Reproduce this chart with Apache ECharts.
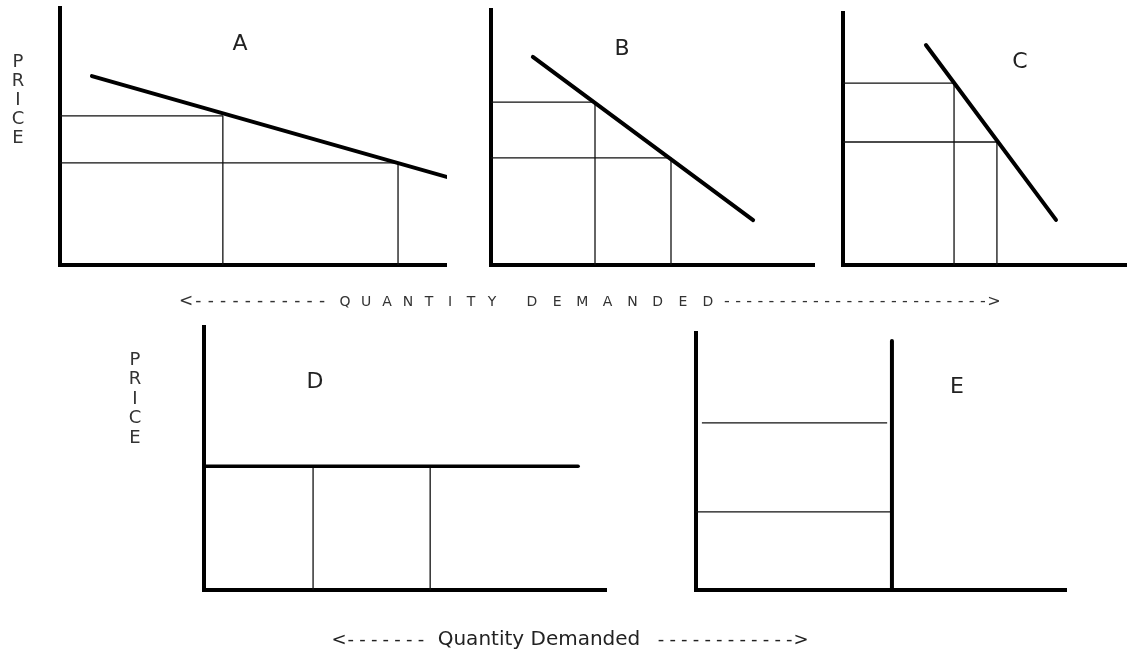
<!DOCTYPE html>
<html>
<head>
<meta charset="utf-8">
<script src="https://cdn.jsdelivr.net/npm/echarts@6/dist/echarts.min.js"></script>
<style>html,body{margin:0;padding:0;background:#fff}#c{width:1127px;height:659px}</style>
</head>
<body>
<div id="c"></div>
<script>
// ---- data (each panel uses a 0..100 price / quantity scale) ----
const panels = ['A', 'B', 'C', 'D', 'E'];
const demandA = [[8.3, 73.5], [101.3, 33.9]];
const guidesA = [[[0, 58.0], [42.3, 58.0], [42.3, 0]], [[0, 39.7], [87.8, 39.7], [87.8, 0]]];
const demandB = [[13.0, 81.6], [81.4, 17.6]];
const guidesB = [[[0, 63.9], [32.3, 63.9], [32.3, 0]], [[0, 42.0], [55.9, 42.0], [55.9, 0]]];
const demandC = [[29.2, 87.3], [75.0, 17.9]];
const guidesC = [[[0, 72.2], [39.1, 72.2], [39.1, 0]], [[0, 48.8], [54.2, 48.8], [54.2, 0]]];
const demandD = [[0, 47.1], [93.3, 47.1]];
const guidesD = [[[27.2, 47.1], [27.2, 0]], [[56.4, 47.1], [56.4, 0]]];
const demandE = [[53.1, 0], [53.1, 96.9]];
const guidesE = [[[1.6, 65.0], [51.8, 65.0]], [[0, 30.4], [52.6, 30.4]]];
const yTitle = 'PRICE';
const topCaption = ['<-----------', 'QUANTITY', 'DEMANDED', '------------------------>'];
const bottomCaption = ['<-------', 'Quantity Demanded', '------------>'];

const demands = [demandA, demandB, demandC, demandD, demandE];
const guides = [guidesA, guidesB, guidesC, guidesD, guidesE];

// ---- layout ----
const grids = [
  {left: 60, top: 8, width: 385, height: 257},
  {left: 491, top: 10, width: 322, height: 255},
  {left: 843, top: 13, width: 284, height: 252},
  {left: 204, top: 327, width: 401, height: 263},
  {left: 696, top: 333, width: 369, height: 257}
];
const labelPos = [[240, 44], [622, 49], [1020, 62], [315, 382], [957, 387]];

const axisLine = {show: true, onZero: false, lineStyle: {color: '#000', width: 4, cap: 'square'}};
const xAxis = grids.map((g, i) => ({
  type: 'value', gridIndex: i, min: 0, max: 100,
  axisLine: axisLine, axisTick: {show: false}, axisLabel: {show: false}, splitLine: {show: false}
}));
const yAxis = grids.map((g, i) => ({
  type: 'value', gridIndex: i, min: 0, max: 100,
  axisLine: axisLine, axisTick: {show: false}, axisLabel: {show: false}, splitLine: {show: false}
}));

const series = [];
demands.forEach((d, i) => {
  guides[i].forEach(gl => series.push({
    type: 'line', xAxisIndex: i, yAxisIndex: i, data: gl, symbol: 'none', clip: false, silent: true,
    lineStyle: {color: '#111', width: 1.3}
  }));
  series.push({
    type: 'line', xAxisIndex: i, yAxisIndex: i, data: d, symbol: 'none', clip: false, silent: true,
    lineStyle: {color: '#000', width: i === 3 ? 3.5 : 4, cap: 'round'}
  });
});

// ---- texts ----
const graphic = [];
function txt(s, x, y, size, color, family) {
  graphic.push({type: 'text', x: x, y: y, silent: true,
    style: {text: s, fontSize: size, fontFamily: family || '"DejaVu Sans"', fill: color || '#222',
      align: 'center', verticalAlign: 'middle'}});
}
function spread(s, x1, x2, y, size, color) {
  const n = s.length;
  for (let k = 0; k < n; k++) {
    const x = n > 1 ? x1 + (x2 - x1) * k / (n - 1) : x1;
    txt(s[k], x, y, size, color);
  }
}
panels.forEach((p, i) => txt(p, labelPos[i][0], labelPos[i][1], 22, '#222'));
// vertical PRICE titles
[[18, 62, 19], [135, 360, 19.5]].forEach(([x, y0, step]) => {
  for (let k = 0; k < yTitle.length; k++) txt(yTitle[k], x, y0 + k * step, 18, '#333');
});
// top caption
spread(topCaption[0], 186, 322, 302, 17, '#333');
spread(topCaption[1], 345, 492, 302, 14, '#333');
spread(topCaption[2], 532, 708, 302, 14, '#333');
spread(topCaption[3], 727, 994, 302, 16, '#333');
// bottom caption
spread(bottomCaption[0], 339, 421, 640, 18, '#222');
txt(bottomCaption[1], 539, 640, 20, '#222');
spread(bottomCaption[2], 661, 801, 640, 18, '#222');

const chart = echarts.init(document.getElementById('c'));
chart.setOption({
  animation: false,
  backgroundColor: '#fff',
  grid: grids.map(g => Object.assign({containLabel: false}, g)),
  xAxis: xAxis,
  yAxis: yAxis,
  series: series,
  graphic: graphic
});
</script>
</body>
</html>
